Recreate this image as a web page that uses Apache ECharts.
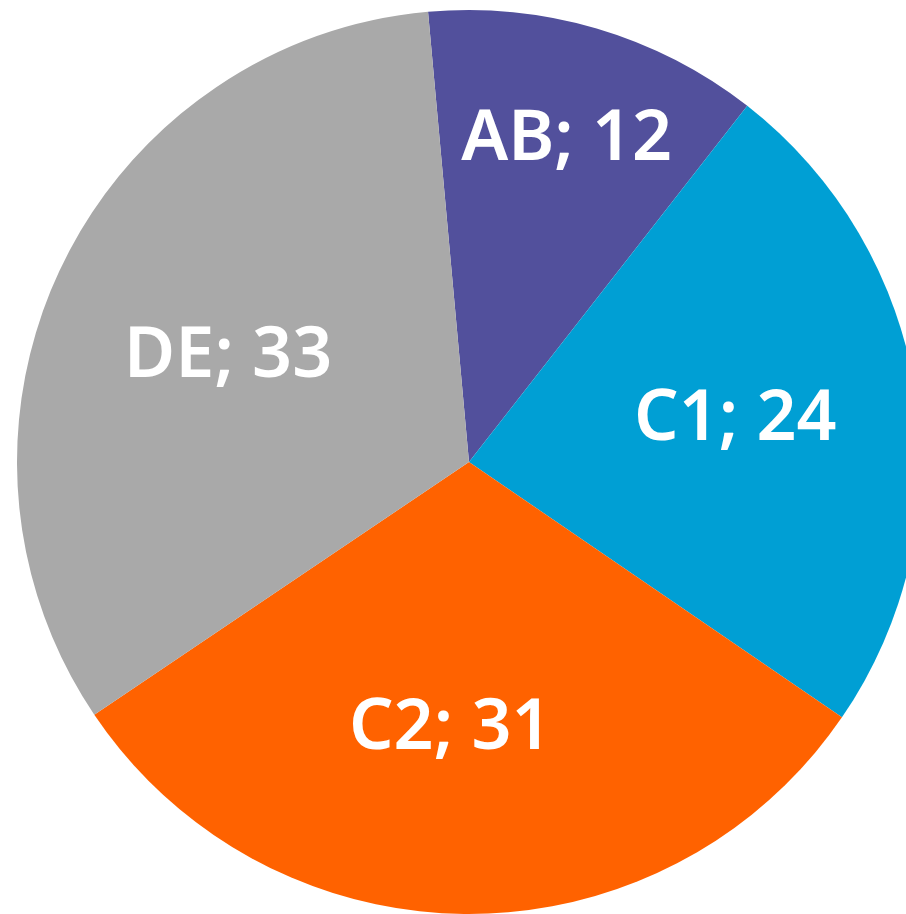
<!DOCTYPE html>
<html><head><meta charset="utf-8">
<style>html,body{margin:0;padding:0;background:#fff}#c{width:906px;height:914px}</style>
<script src="https://cdn.jsdelivr.net/npm/echarts@6/dist/echarts.min.js"></script>
</head><body><div id="c"></div>
<script>
const categories = ["AB", "C1", "C2", "DE"];
const values = [12, 24, 31, 33];
const colors = ["#52509c", "#009fd4", "#ff6200", "#a9a9a9"];
const labelOffsets = [[33, -102], [40, -7], [-18, 38], [-34, -7]];

const chart = echarts.init(document.getElementById('c'), null, {renderer: 'canvas'});
chart.setOption({
  animation: false,
  series: [{
    type: 'pie',
    center: [469, 462],
    radius: [0, 452],
    startAngle: 95.2,
    clockwise: true,
    label: {
      show: true,
      position: 'inside',
      color: '#fff',
      fontFamily: 'Noto Sans',
      fontWeight: 600,
      fontSize: 70,
      formatter: p => p.name + '; ' + p.value
    },
    labelLine: {show: false},
    emphasis: {disabled: true},
    itemStyle: {borderWidth: 0},
    data: categories.map((n, i) => ({
      name: n, value: values[i],
      itemStyle: {color: colors[i]},
      label: {offset: labelOffsets[i]}
    }))
  }]
});
</script></body></html>
